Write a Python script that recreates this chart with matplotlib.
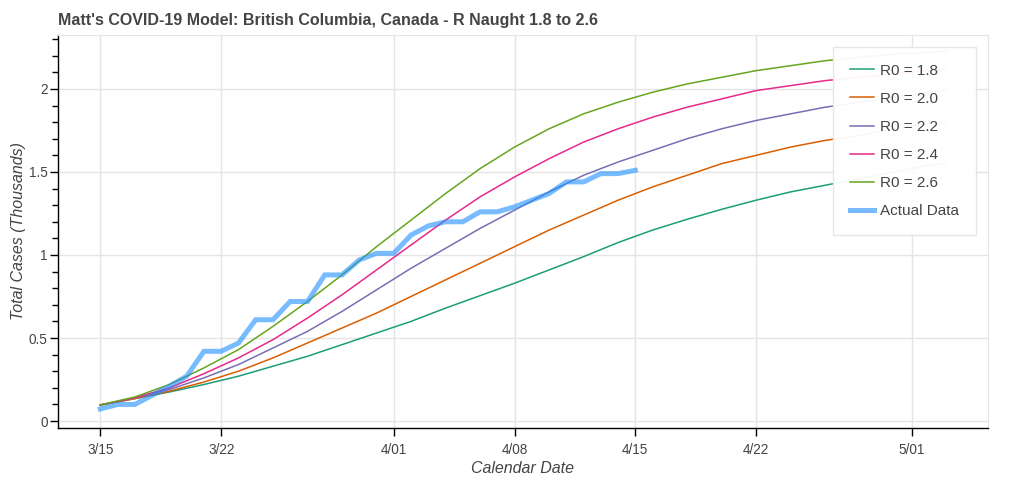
import numpy as np
import matplotlib
matplotlib.use('Agg')
import matplotlib.pyplot as plt
from matplotlib.ticker import MultipleLocator, FuncFormatter

plt.rcParams['font.family'] = ['Liberation Sans', 'DejaVu Sans']

start = np.datetime64('2020-03-15')

# model curves (thousands of cases), read every 2 days from 3/15
model_days = [0, 2, 4, 6, 8, 10, 12, 14, 16, 18, 20, 22, 24, 26, 28, 30, 32,
              34, 36, 38, 40, 42, 44, 46, 48, 49]
r0_labels = ['R0 = 1.8', 'R0 = 2.0', 'R0 = 2.2', 'R0 = 2.4', 'R0 = 2.6']
r0_18 = [0.097, 0.135, 0.175, 0.22, 0.27, 0.33, 0.39, 0.46, 0.53, 0.60, 0.68, 0.755, 0.83,
         0.91, 0.99, 1.075, 1.15, 1.215, 1.275, 1.33, 1.38, 1.42, 1.46, 1.50, 1.54, 1.555]
r0_20 = [0.097, 0.135, 0.18, 0.235, 0.30, 0.38, 0.47, 0.56, 0.65, 0.75, 0.85, 0.95, 1.05,
         1.15, 1.24, 1.33, 1.41, 1.48, 1.55, 1.60, 1.65, 1.69, 1.72, 1.76, 1.79, 1.80]
r0_22 = [0.097, 0.14, 0.19, 0.26, 0.34, 0.44, 0.54, 0.66, 0.79, 0.92, 1.04, 1.16, 1.27,
         1.38, 1.48, 1.56, 1.63, 1.70, 1.76, 1.81, 1.85, 1.89, 1.92, 1.95, 1.98, 1.99]
r0_24 = [0.097, 0.14, 0.20, 0.285, 0.38, 0.49, 0.62, 0.76, 0.91, 1.06, 1.21, 1.35, 1.47,
         1.58, 1.68, 1.76, 1.83, 1.89, 1.94, 1.99, 2.02, 2.05, 2.07, 2.09, 2.11, 2.12]
r0_26 = [0.097, 0.145, 0.22, 0.32, 0.43, 0.57, 0.72, 0.88, 1.05, 1.21, 1.37, 1.52, 1.65,
         1.76, 1.85, 1.92, 1.98, 2.03, 2.07, 2.11, 2.14, 2.17, 2.19, 2.21, 2.22, 2.23]
model_colors = ['#1b9e77', '#d95f02', '#7570b3', '#e7298a', '#66a61e']

# actual daily totals, 3/15 to 4/15 (thousands)
actual = [0.073, 0.10, 0.10, 0.155, 0.21, 0.27, 0.42, 0.42, 0.47, 0.61, 0.61,
          0.72, 0.72, 0.88, 0.88, 0.97, 1.01, 1.01, 1.12, 1.175, 1.20, 1.20,
          1.26, 1.26, 1.29, 1.33, 1.37, 1.44, 1.44, 1.49, 1.49, 1.51]

tick_dates = ['2020-03-15', '2020-03-22', '2020-04-01', '2020-04-08',
              '2020-04-15', '2020-04-22', '2020-05-01']
tick_labels = ['3/15', '3/22', '4/01', '4/08', '4/15', '4/22', '5/01']

model_x = start + np.array(model_days).astype('timedelta64[D]')
actual_x = start + np.arange(len(actual)).astype('timedelta64[D]')

fig = plt.figure(figsize=(10.24, 4.82), dpi=100)
ax = fig.add_axes([0.0566, 0.112, 0.908, 0.8155])

for vals, lab, col in zip([r0_18, r0_20, r0_22, r0_24, r0_26], r0_labels, model_colors):
    ax.plot(model_x, vals, color=col, lw=1.1, label=lab)
ax.plot(actual_x, actual, color='dodgerblue', alpha=0.6, lw=3.6,
        solid_joinstyle='miter', label='Actual Data')

ax.set_xlim(start - np.timedelta64(59, 'h'), start + np.timedelta64(1234, 'h'))
ax.set_ylim(-0.042, 2.325)

ax.set_xticks(np.array(tick_dates, dtype='datetime64[D]'))
ax.set_xticklabels(tick_labels)
ax.yaxis.set_major_locator(MultipleLocator(0.5))
ax.yaxis.set_minor_locator(MultipleLocator(0.1))
ax.yaxis.set_major_formatter(FuncFormatter(lambda v, p: '%g' % v))

ax.grid(True, color='#e5e5e5', lw=1)
ax.set_axisbelow(True)
for s in ['top', 'right']:
    ax.spines[s].set_color('#e5e5e5')
for s in ['left', 'bottom']:
    ax.spines[s].set_color('black')
    ax.spines[s].set_linewidth(1)
ax.tick_params(which='major', length=6, width=1, color='black', labelsize=9.8,
               labelcolor='#444444')
ax.tick_params(axis='x', pad=5)
ax.tick_params(axis='y', pad=1.5)
ax.tick_params(which='minor', length=4, width=1, color='black')

ax.set_xlabel('Calendar Date', fontsize=11.5, style='italic', color='#444444', labelpad=3)
ax.set_ylabel('Total Cases (Thousands)', fontsize=11.5, style='italic', color='#444444', labelpad=2)
ax.set_title("Matt's COVID-19 Model: British Columbia, Canada - R Naught 1.8 to 2.6",
             loc='left', fontsize=11.5, fontweight='bold', color='#444444', pad=7.5)

leg = ax.legend(loc='upper right', bbox_to_anchor=(0.987, 0.9695), fontsize=11,
                frameon=True, fancybox=False, borderpad=1.1, labelspacing=0.92,
                handlelength=1.57, handletextpad=0.4, borderaxespad=0)
leg.get_frame().set_edgecolor('#e5e5e5')
leg.get_frame().set_facecolor('white')
leg.get_frame().set_alpha(0.95)
leg.get_frame().set_linewidth(1)
for t in leg.get_texts():
    t.set_color('#444444')

fig.savefig('out.png', dpi=100)
